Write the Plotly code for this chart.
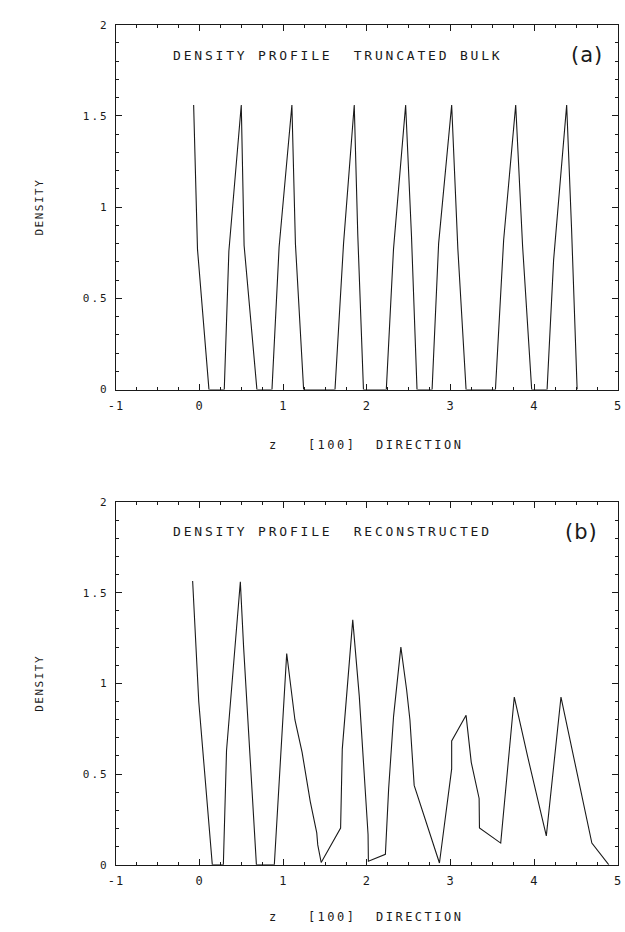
import plotly.graph_objects as go

# ---- data ----
z_a = [-0.071, -0.025, 0.112, 0.295, 0.35, 0.498, 0.532, 0.685, 0.865, 0.95, 1.103, 1.145,
       1.243, 1.618, 1.72, 1.848, 1.89, 1.958, 2.231, 2.317, 2.462, 2.532, 2.598, 2.778,
       2.856, 3.012, 3.086, 3.184, 3.535, 3.633, 3.777, 3.859, 3.968, 4.152, 4.230, 4.386,
       4.445, 4.511]
d_a = [1.56, 0.77, 0.0, 0.0, 0.76, 1.56, 0.79, 0.0, 0.0, 0.78, 1.56, 0.80,
       0.0, 0.0, 0.80, 1.56, 0.85, 0.0, 0.0, 0.77, 1.56, 0.84, 0.0, 0.0,
       0.80, 1.56, 0.77, 0.0, 0.0, 0.82, 1.56, 0.79, 0.0, 0.0, 0.71, 1.56,
       0.875, 0.0]

z_b = [-0.083, -0.01, 0.152, 0.284, 0.322, 0.487, 0.526, 0.679, 0.893, 1.041, 1.139, 1.225,
       1.322, 1.40, 1.412, 1.453, 1.685, 1.705, 1.83, 1.908, 2.013, 2.017, 2.22, 2.259,
       2.318, 2.405, 2.474, 2.513, 2.564, 2.866, 3.012, 3.012, 3.184, 3.246, 3.340, 3.344,
       3.598, 3.76, 3.918, 4.043, 4.143, 4.318, 4.456, 4.562, 4.687, 4.89]
d_b = [1.565, 0.90, 0.0, 0.0, 0.63, 1.56, 1.20, 0.0, 0.0, 1.165, 0.80, 0.62,
       0.35, 0.176, 0.11, 0.013, 0.203, 0.638, 1.35, 0.93, 0.167, 0.02, 0.058, 0.42,
       0.82, 1.20, 0.964, 0.80, 0.438, 0.01, 0.529, 0.683, 0.824, 0.565, 0.366, 0.203,
       0.12, 0.925, 0.60, 0.348, 0.16, 0.925, 0.62, 0.384, 0.12, 0.0]

x_ticks = [-1, 0, 1, 2, 3, 4, 5]
x_ticklabels = ["-1", "0", "1", "2", "3", "4", "5"]
y_ticks = [0, 0.5, 1, 1.5, 2]
y_ticklabels = ["0", "0.5", "1", "1.5", "2"]

title_a = "DENSITY PROFILE\u00a0\u00a0TRUNCATED BULK"
title_b = "DENSITY PROFILE\u00a0\u00a0RECONSTRUCTED"
panel_a = "(a)"
panel_b = "(b)"
y_title = "DENSITY"
x_title = "z\u00a0\u00a0\u00a0[100]\u00a0\u00a0DIRECTION"

# ---- figure ----
W, H = 625, 932
INK = "#1a1a1a"
MONO = "DejaVu Sans Mono"


def sp(txt, ls=2):
    return '<span style="letter-spacing:%gpx">%s</span>' % (ls, txt)


fig = go.Figure()
fig.add_trace(go.Scatter(x=z_a, y=d_a, mode="lines", line=dict(color=INK, width=1.1),
                         xaxis="x", yaxis="y", showlegend=False))
fig.add_trace(go.Scatter(x=z_b, y=d_b, mode="lines", line=dict(color=INK, width=1.1),
                         xaxis="x2", yaxis="y2", showlegend=False))

x0, x1 = 110 / W, 622 / W
top_dom = [1 - 389 / H, 1 - 19 / H]
bot_dom = [1 - 871 / H, 1 - 503 / H]


def xax(anchor):
    return dict(domain=[x0, x1], anchor=anchor, range=[-1, 5],
                tickmode="array", tickvals=x_ticks,
                ticktext=[sp(t, 1) for t in x_ticklabels],
                ticks="inside", ticklen=6, tickwidth=1, tickcolor=INK,
                showline=True, linecolor=INK, linewidth=1, mirror="ticks",
                showgrid=False, zeroline=False, ticklabelstandoff=5,
                ticklabeloverflow="allow",
                minor=dict(tick0=-1, dtick=0.25, ticks="inside", ticklen=3,
                           tickwidth=1, tickcolor=INK, showgrid=False),
                tickfont=dict(family=MONO, size=12, color=INK))


def yax(anchor, dom):
    return dict(domain=dom, anchor=anchor, range=[0, 2],
                tickmode="array", tickvals=y_ticks,
                ticktext=[sp(t, 2) for t in y_ticklabels],
                ticks="inside", ticklen=6, tickwidth=1, tickcolor=INK,
                showline=True, linecolor=INK, linewidth=1, mirror="ticks",
                showgrid=False, zeroline=False, ticklabelstandoff=4,
                ticklabeloverflow="allow",
                minor=dict(tick0=0, dtick=0.1, ticks="inside", ticklen=3,
                           tickwidth=1, tickcolor=INK, showgrid=False),
                tickfont=dict(family=MONO, size=11, color=INK))


ann = []
tfont = dict(family=MONO, size=13, color=INK)
for title, lab, yc, lx in [(title_a, panel_a, 50, 590), (title_b, panel_b, 533, 585)]:
    ann.append(dict(text=sp(title, 2.8), x=166 / W, y=1 - yc / H, xref="paper", yref="paper",
                    xanchor="left", yanchor="middle", showarrow=False, font=tfont))
    ann.append(dict(text=sp(lab, 1), x=lx / W, y=1 - yc / H, xref="paper", yref="paper",
                    xanchor="center", yanchor="middle", showarrow=False,
                    font=dict(family="DejaVu Sans", size=21, color=INK)))
for yc in [204, 687]:
    ann.append(dict(text=sp(y_title, 1.5), x=32 / W, y=1 - yc / H, xref="paper", yref="paper",
                    xanchor="center", yanchor="middle", textangle=-90, showarrow=False,
                    font=dict(family=MONO, size=11, color=INK)))
for yc in [445, 924]:
    ann.append(dict(text=sp(x_title, 2.5), x=366 / W, y=1 - yc / H, xref="paper", yref="paper",
                    xanchor="center", yanchor="middle", showarrow=False,
                    font=dict(family=MONO, size=12, color=INK)))

fig.update_layout(
    width=W, height=H, margin=dict(l=0, r=0, t=0, b=0),
    paper_bgcolor="white", plot_bgcolor="white",
    xaxis=xax("y"), yaxis=yax("x", top_dom),
    xaxis2=xax("y2"), yaxis2=yax("x2", bot_dom),
    annotations=ann, showlegend=False,
)

fig.write_html(
    "out.html",
    config={"displayModeBar": False, "staticPlot": True},
    post_script=("document.body.style.margin='0';"
                 "document.body.style.overflow='hidden';"
                 "document.documentElement.style.overflow='hidden';"),
)
